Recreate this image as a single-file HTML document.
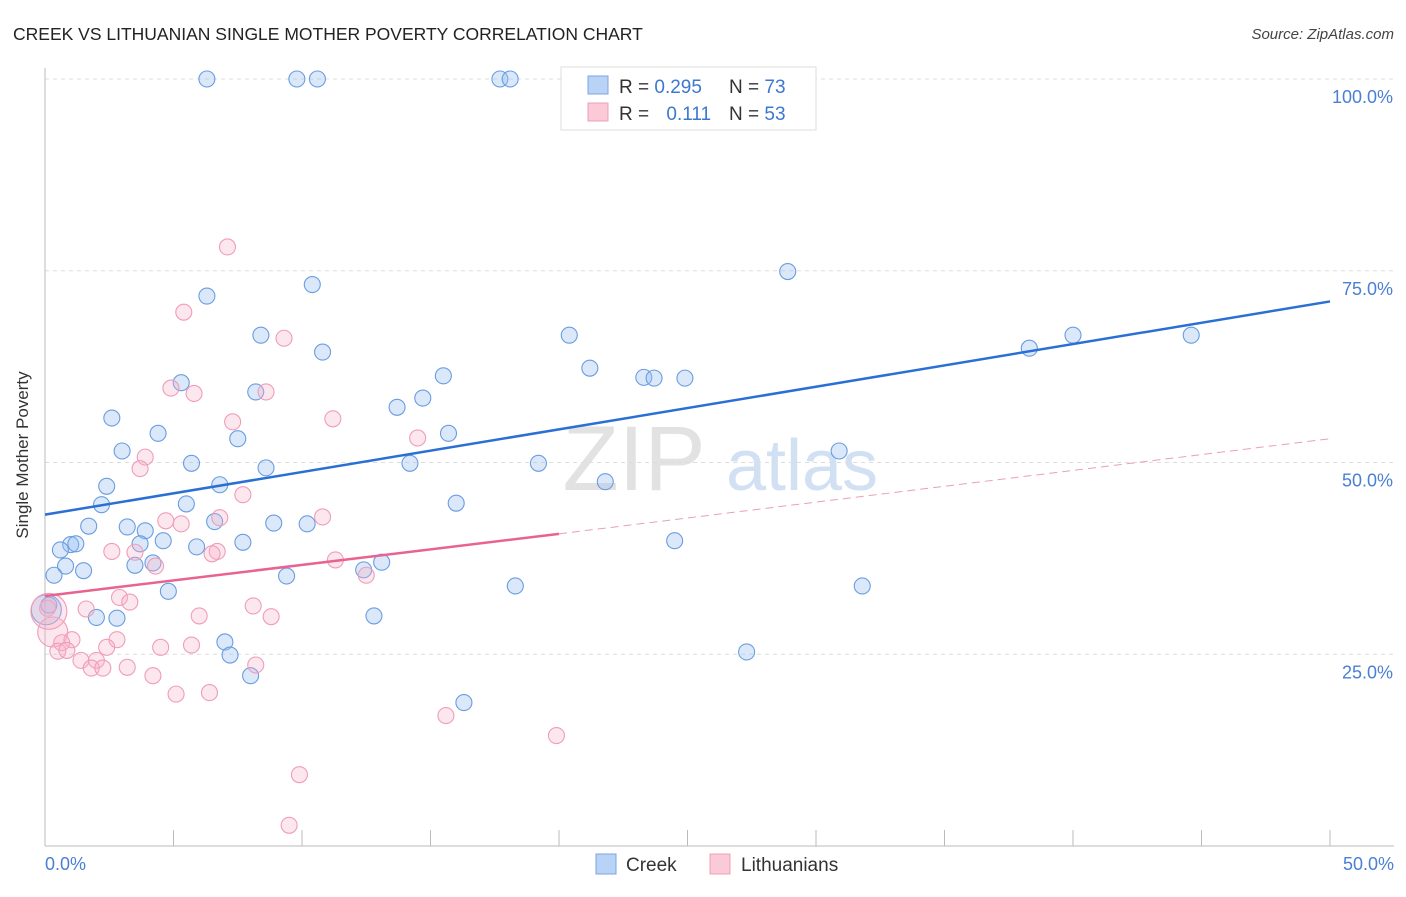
<!DOCTYPE html>
<html><head><meta charset="utf-8">
<style>
body{margin:0;background:#fff;font-family:"Liberation Sans",sans-serif;}
svg text{font-family:"Liberation Sans",sans-serif;}
</style></head>
<body>
<svg id="chart" width="1406" height="892">
<text x="13" y="40" font-size="17.5" fill="#222">CREEK VS LITHUANIAN SINGLE MOTHER POVERTY CORRELATION CHART</text>
<text x="1394" y="39" font-size="15" fill="#444" font-style="italic" text-anchor="end">Source: ZipAtlas.com</text>
<text x="634" y="490" font-size="92" fill="#e2e2e2" font-family="Liberation Serif" text-anchor="middle">ZIP</text>
<text x="802" y="490" font-size="72" fill="#d2e0f3" text-anchor="middle">atlas</text>
<g id="grid"></g>
<line x1="45" y1="68" x2="45" y2="846" stroke="#bbb"/>
<line x1="45" y1="846" x2="1394" y2="846" stroke="#bbb"/>
<g id="ticks"></g>
<text x="28" y="455" font-size="17" fill="#333" text-anchor="middle" transform="rotate(-90 28 455)">Single Mother Poverty</text>
<text x="45" y="870" font-size="18" fill="#4a7fd4">0.0%</text>
<text x="1394" y="870" font-size="18" fill="#4a7fd4" text-anchor="end">50.0%</text>
<g id="pts"></g>
<g id="lines"></g>
<g>
<rect x="561" y="67" width="255" height="63" fill="#fff" stroke="#ddd"/>
<rect x="588" y="76" width="20" height="18" fill="#b8d3f5" stroke="#7aa6e0"/>
<rect x="588" y="103" width="20" height="18" fill="#fbc9d8" stroke="#eea0b8"/>
<text x="619" y="93" font-size="19" fill="#333">R = <tspan fill="#3b78d0">0.295</tspan></text>
<text x="729" y="93" font-size="19" fill="#333">N = <tspan fill="#3b78d0">73</tspan></text>
<text x="619" y="120" font-size="19" fill="#333">R = <tspan fill="#3b78d0" dx="12">0.111</tspan></text>
<text x="729" y="120" font-size="19" fill="#333">N = <tspan fill="#3b78d0">53</tspan></text>
</g>
<g>
<rect x="596" y="854" width="20" height="20" fill="#b8d3f5" stroke="#7aa6e0"/>
<text x="626" y="871" font-size="19" fill="#333">Creek</text>
<rect x="710" y="854" width="20" height="20" fill="#fbc9d8" stroke="#eea0b8"/>
<text x="741" y="871" font-size="19" fill="#333">Lithuanians</text>
</g>
</svg>
<script>
const yTicks=[25,50,75,100];
const yTickLabels=["25.0%","50.0%","75.0%","100.0%"];
const creekX=[6.3,9.8,10.6,17.7,18.1,28.9,6.3,10.4,8.4,10.8,20.4,21.2,23.3,23.7,24.9,15.5,14.7,13.7,5.3,8.2,2.6,4.4,7.5,15.7,3.0,5.7,8.6,14.2,19.2,30.9,38.3,40.0,44.6,2.4,6.8,2.2,5.5,21.8,16.0,1.7,3.2,3.9,6.6,8.9,10.2,1.0,1.2,0.6,3.7,4.6,5.9,7.7,24.5,0.8,1.5,0.35,3.5,4.2,13.1,12.4,9.4,4.8,18.3,31.8,0.15,0.05,2.0,2.8,12.8,7.0,7.2,27.3,8.0,16.3];
const creekY=[100,100,100,100,100,74.9,71.7,73.2,66.6,64.4,66.6,62.3,61.1,61.0,61.0,61.3,58.4,57.2,60.4,59.2,55.8,53.8,53.1,53.8,51.5,49.9,49.3,49.9,49.9,51.5,64.9,66.6,66.6,46.9,47.1,44.5,44.6,47.5,44.7,41.7,41.6,41.1,42.3,42.1,42.0,39.3,39.4,38.6,39.4,39.8,39.0,39.6,39.8,36.5,35.9,35.3,36.6,36.9,37.0,36.0,35.2,33.2,33.9,33.9,31.4,30.8,29.8,29.7,30.0,26.6,24.9,25.3,22.2,18.7];
const creekR=[8,8,8,8,8,8,8,8,8,8,8,8,8,8,8,8,8,8,8,8,8,8,8,8,8,8,8,8,8,8,8,8,8,8,8,8,8,8,8,8,8,8,8,8,8,8,8,8,8,8,8,8,8,8,8,8,8,8,8,8,8,8,8,8,8,15,8,8,8,8,8,8,8,8];
const lithX=[7.1,5.4,9.3,4.9,5.8,8.6,7.3,11.2,14.5,3.9,3.7,7.7,6.8,10.8,4.7,5.3,2.6,3.5,6.7,6.5,4.3,11.3,12.5,0.1,2.9,3.3,1.6,8.1,6.0,8.8,0.3,1.05,0.65,0.5,2.8,2.4,4.5,5.7,0.85,1.4,2.0,1.8,2.25,3.2,4.2,5.1,6.4,8.2,15.6,19.9,9.9,9.5,0.15];
const lithY=[78.1,69.6,66.2,59.7,59.0,59.2,55.3,55.7,53.2,50.7,49.2,45.8,42.8,42.9,42.4,42.0,38.4,38.3,38.4,38.1,36.5,37.3,35.3,31.0,32.4,31.8,30.9,31.3,30.0,29.9,27.9,26.9,26.5,25.4,26.9,25.9,25.9,26.2,25.5,24.2,24.2,23.2,23.2,23.3,22.2,19.8,20.0,23.6,17.0,14.4,9.3,2.7,30.6];
const lithR=[8,8,8,8,8,8,8,8,8,8,8,8,8,8,8,8,8,8,8,8,8,8,8,8,8,8,8,8,8,8,15,8,8,8,8,8,8,8,8,8,8,8,8,8,8,8,8,8,8,8,8,8,18];
const creekLine=[[0,43.2],[50,71.0]];
const lithLineSolid=[[0,32.6],[20,40.7]];
const lithLineDash=[[20,40.7],[50,53.1]];
const xTicks=[0,5,10,15,20,25,30,35,40,45,50];

const X=v=>45+v*25.7, Y=v=>846-v*7.67;
const NS="http://www.w3.org/2000/svg";
function mk(t,a,p){const e=document.createElementNS(NS,t);for(const k in a)e.setAttribute(k,a[k]);document.getElementById(p).appendChild(e);return e;}
yTicks.forEach((v,i)=>{
 const l=mk('line',{x1:45,x2:1394,y1:Y(v),y2:Y(v),stroke:'#ddd','stroke-dasharray':'4,4'},'grid');
 
 
 const t=mk('text',{x:1393,y:Y(v)+24,'font-size':18,fill:'#4a7fd4','text-anchor':'end'},'grid');
 t.textContent=yTickLabels[i];
 
 
});
xTicks.forEach(v=>{
 const l=mk('line',{x1:X(v),x2:X(v),y1:830,y2:846,stroke:'#bbb'},'ticks');
 
 
});
creekX.forEach((v,i)=>{
 const c=mk('circle',{cx:X(v),cy:Y(creekY[i]),r:creekR[i],fill:'rgba(150,190,240,0.35)',stroke:'#6a9de0','stroke-width':1.1},'pts');
 
 
});
lithX.forEach((v,i)=>{
 const c=mk('circle',{cx:X(v),cy:Y(lithY[i]),r:lithR[i],fill:'rgba(248,175,198,0.3)',stroke:'#ef9db8','stroke-width':1.1},'pts');
 
 
});
let l1=mk('line',{x1:X(creekLine[0][0]),y1:Y(creekLine[0][1]),x2:X(creekLine[1][0]),y2:Y(creekLine[1][1]),stroke:'#2a6fd6','stroke-width':2.5},'lines');


let l2=mk('line',{x1:X(lithLineSolid[0][0]),y1:Y(lithLineSolid[0][1]),x2:X(lithLineSolid[1][0]),y2:Y(lithLineSolid[1][1]),stroke:'#e8638f','stroke-width':2.5},'lines');


let l3=mk('line',{x1:X(lithLineDash[0][0]),y1:Y(lithLineDash[0][1]),x2:X(lithLineDash[1][0]),y2:Y(lithLineDash[1][1]),stroke:'#e8a0b8','stroke-width':1,'stroke-dasharray':'8,5'},'lines');


</script>
</body></html>
